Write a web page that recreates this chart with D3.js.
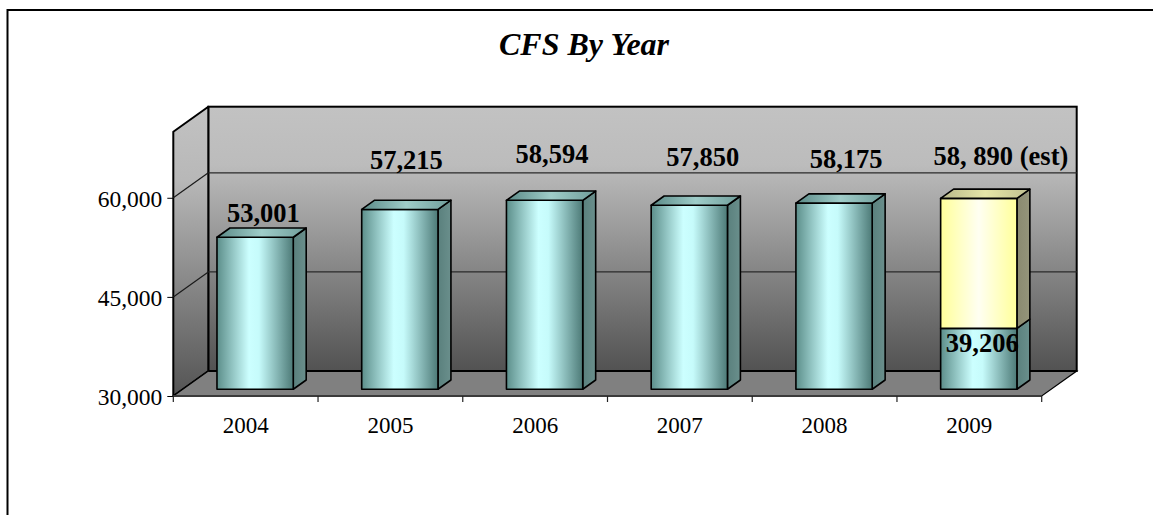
<!DOCTYPE html>
<html><head><meta charset="utf-8">
<script src="https://cdn.jsdelivr.net/npm/d3@7"></script>
<style>
html,body{margin:0;padding:0;background:#fff;}
svg{display:block;}
text{font-family:"Times New Roman","Liberation Serif",serif;}
</style></head>
<body><svg id="chart" width="1153" height="515"></svg>
<script>
// ---- data ----
const years = ["2004","2005","2006","2007","2008","2009"];
const actualCFS = [53001, 57215, 58594, 57850, 58175, 39206];
const estimatedExtra = [0, 0, 0, 0, 0, 19684]; // 39,206 + 19,684 = 58,890 (est)
const valueLabels = ["53,001","57,215","58,594","57,850","58,175","58, 890 (est)"];
const innerLabels = ["","","","","","39,206"];
const yTicks = [30000, 45000, 60000];
const titleText = "CFS By Year";

// ---- layout ----
const svg = d3.select("#chart");
const X0 = 173.3, X1 = 1041.7, YB = 396, YT = 131.7;
const DX = 35, DY = -25;          // full depth of the 3D box
const F0 = 0.27, F1 = 0.64;       // bar depth (fraction of box depth)

const x = d3.scaleBand().domain(years).range([X0, X1]).paddingInner(0.473).paddingOuter(0.2365);
const y = d3.scaleLinear().domain([30000, 70000]).range([YB, YT]);
const step = x.step();

const defs = svg.append("defs");
function lin(id, x1,y1,x2,y2, stops){
  const g = defs.append("linearGradient").attr("id", id)
    .attr("x1",x1).attr("y1",y1).attr("x2",x2).attr("y2",y2);
  stops.forEach(s => g.append("stop").attr("offset", s[0]).attr("stop-color", s[1]));
}
lin("wall",0,0,0,1,[[0,"#c2c2c2"],[0.22,"#bcbcbc"],[1,"#525252"]]);
lin("lwall",0,0,0,1,[[0,"#c2c2c2"],[0.25,"#b8b8b8"],[1,"#545454"]]);
lin("cyanFront",0,0,1,0,[[0,"#5c8e8a"],[0.42,"#ccffff"],[0.55,"#c6fbfb"],[1,"#4d7a77"]]);
lin("cyanTop",0,0,1,0,[[0,"#5a8986"],[0.5,"#9fcdc9"],[1,"#6f9d9a"]]);
lin("cyanSide",0,0,1,0,[[0,"#5a807d"],[1,"#6a8f8c"]]);
lin("yelFront",0,0,1,0,[[0,"#ffff99"],[0.5,"#fffff2"],[1,"#ffff99"]]);
lin("yelTop",0,0,1,0,[[0,"#b8b88a"],[0.5,"#e6e6a8"],[1,"#c0c090"]]);
lin("yelSide",0,0,1,0,[[0,"#8a8a70"],[1,"#94947a"]]);

// frame
svg.append("rect").attr("x",7.5).attr("y",10).attr("width",1300).attr("height",700)
  .attr("fill","none").attr("stroke","#000").attr("stroke-width",2);

// title
svg.append("text").attr("x",584).attr("y",55).attr("text-anchor","middle")
  .attr("font-size",32).attr("font-weight","bold").attr("font-style","italic").text(titleText);

const pt = (px,py) => px + "," + py;
// back wall
svg.append("rect").attr("x",X0+DX).attr("y",YT+DY).attr("width",X1-X0).attr("height",YB-YT)
  .attr("fill","url(#wall)").attr("stroke","#000").attr("stroke-width",2);
// left wall
svg.append("polygon")
  .attr("points",[pt(X0,YT),pt(X0+DX,YT+DY),pt(X0+DX,YB+DY),pt(X0,YB)].join(" "))
  .attr("fill","url(#lwall)").attr("stroke","#000").attr("stroke-width",2).attr("stroke-linejoin","round");
// floor
svg.append("polygon")
  .attr("points",[pt(X0,YB),pt(X1,YB),pt(X1+DX,YB+DY),pt(X0+DX,YB+DY)].join(" "))
  .attr("fill","#808080").attr("stroke","#000").attr("stroke-width",1.2);
svg.append("line").attr("x1",X0+DX).attr("x2",X1+DX).attr("y1",YB+DY).attr("y2",YB+DY)
  .attr("stroke","#000").attr("stroke-width",2);
svg.append("line").attr("x1",X0).attr("x2",X1).attr("y1",YB).attr("y2",YB)
  .attr("stroke","#3a3a3a").attr("stroke-width",2);

// gridlines
const grid = svg.append("g");
yTicks.filter(v => v > 30000).forEach(v => {
  grid.append("line").attr("x1",X0+DX).attr("x2",X1+DX).attr("y1",y(v)+DY).attr("y2",y(v)+DY)
    .attr("stroke","#2a2a2a").attr("stroke-width",1.2);
  grid.append("line").attr("x1",X0).attr("x2",X0+DX).attr("y1",y(v)).attr("y2",y(v)+DY)
    .attr("stroke","#1a1a1a").attr("stroke-width",1.2);
});

// left axis
const ax = svg.append("g").attr("transform",`translate(${X0},0)`)
  .call(d3.axisLeft(y).tickValues(yTicks).tickFormat(d3.format(",")).tickSize(6).tickPadding(5));
ax.select(".domain").remove();
ax.selectAll("text").attr("font-size",23.5).attr("fill","#000").attr("font-family","'Times New Roman','Liberation Serif',serif").attr("dy","0.36em");
ax.selectAll("line").attr("stroke","#000");

// bottom axis
const bx = svg.append("g").attr("transform",`translate(0,${YB})`)
  .call(d3.axisBottom(x).tickSize(0).tickPadding(21));
bx.select(".domain").remove();
bx.selectAll("text").attr("font-size",23).attr("fill","#000").attr("font-family","'Times New Roman','Liberation Serif',serif");
const bounds = d3.range(years.length + 1).map(i => X0 + i * step);
svg.append("g").selectAll("line").data(bounds).join("line")
  .attr("x1",d=>d).attr("x2",d=>d).attr("y1",YB).attr("y2",YB+6)
  .attr("stroke","#222").attr("stroke-width",1.2);

// bars
const dx0 = DX*F0, dy0 = DY*F0, ddx = DX*(F1-F0), ddy = DY*(F1-F0);
function bar3d(g, xl, w, v0, v1, kind, withTop){
  const fx = xl + dx0, yTop = y(v1) + dy0, yBot = y(v0) + dy0;
  const st = {stroke:"#000","stroke-width":1.6,"stroke-linejoin":"round"};
  const side = g.append("polygon").attr("points",[pt(fx+w,yBot),pt(fx+w,yTop),pt(fx+w+ddx,yTop+ddy),pt(fx+w+ddx,yBot+ddy)].join(" "))
    .attr("fill",`url(#${kind}Side)`);
  const front = g.append("rect").attr("x",fx).attr("y",yTop).attr("width",w).attr("height",yBot-yTop)
    .attr("fill",`url(#${kind}Front)`);
  const els = [side, front];
  if (withTop) {
    els.push(g.append("polygon").attr("points",[pt(fx,yTop),pt(fx+w,yTop),pt(fx+w+ddx,yTop+ddy),pt(fx+ddx,yTop+ddy)].join(" "))
      .attr("fill",`url(#${kind}Top)`));
  }
  els.forEach(e => Object.entries(st).forEach(([k,val]) => e.attr(k,val)));
}
const bars = svg.append("g");
years.forEach((yr,i) => {
  const g = bars.append("g");
  const total = actualCFS[i] + estimatedExtra[i];
  bar3d(g, x(yr), x.bandwidth(), 30000, actualCFS[i], "cyan", estimatedExtra[i] === 0);
  if (estimatedExtra[i] > 0) bar3d(g, x(yr), x.bandwidth(), actualCFS[i], total, "yel", true);
});

// value labels (manual nudges as in the source chart)
const labelNudge = [[1.8,-5.6],[0,-30.7],[1,-27.7],[7,-30],[5.6,-25.5],[15.7,-23.7]];
const lab = svg.append("g");
years.forEach((yr,i) => {
  const total = actualCFS[i] + estimatedExtra[i];
  const cx = x(yr) + x.bandwidth()/2 + DX*(F0+F1)/2;
  const yBack = y(total) + DY*F1;
  lab.append("text").attr("x",cx + labelNudge[i][0]).attr("y",yBack + labelNudge[i][1])
    .attr("text-anchor","middle").attr("font-size",26.5).attr("font-weight","bold").text(valueLabels[i]);
  if (innerLabels[i]) {
    lab.append("text").attr("x", x(yr) + dx0 + x.bandwidth()/2 + 3.5).attr("y", y(actualCFS[i]) + dy0 + 23.6)
      .attr("text-anchor","middle").attr("font-size",26.5).attr("font-weight","bold").text(innerLabels[i]);
  }
});
</script></body></html>
